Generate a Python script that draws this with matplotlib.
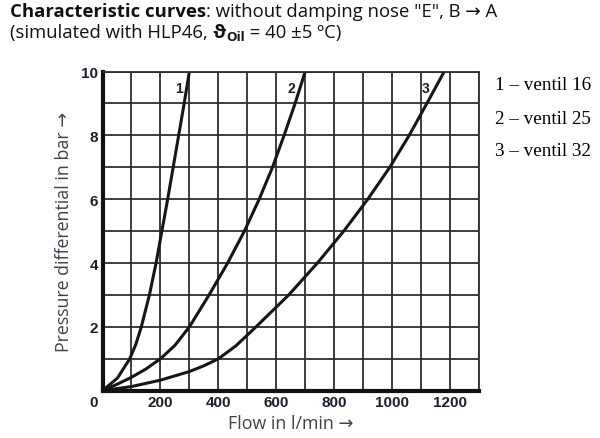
from matplotlib import pyplot as plt
import numpy as np

# flow in l/min, pressure differential in bar
flow_16 = [0, 52, 94, 115, 134, 162, 185, 205, 225, 244, 263, 282, 300]
dp_16 = [0, 0.4, 1, 1.45, 2, 3, 4, 5, 6, 7, 8, 9, 10]

flow_25 = [0, 50, 100, 150, 200, 250, 300, 368, 432, 490, 541, 587, 627, 665, 700]
dp_25 = [0, 0.2, 0.42, 0.68, 1, 1.42, 2, 3, 4, 5, 6, 7, 8, 9, 10]

flow_32 = [0, 100, 200, 300, 350, 400, 460, 530, 643, 742, 833, 916, 992, 1059, 1120, 1180]
dp_32 = [0, 0.13, 0.33, 0.6, 0.78, 1, 1.4, 2, 3, 4, 5, 6, 7, 8, 9, 10]

x_ticks = [200, 400, 600, 800, 1000, 1200]
y_ticks = [2, 4, 6, 8, 10]
curve_tags = ['1', '2', '3']
legend_labels = ['1 – ventil 16', '2 – ventil 25', '3 – ventil 32']

W, H = 600, 439
fig = plt.figure(figsize=(W / 100, H / 100), dpi=100)
plt.rcParams['font.family'] = ['Liberation Sans', 'DejaVu Sans']
sans = ['Open Sans', 'DejaVu Sans']
tick_col = '#1e1e30'

ax = fig.add_axes([102.5 / W, 1 - 391.7 / H, 376.5 / W, 319.2 / H])
ax.set_xlim(0, 1300)
ax.set_ylim(0, 10)

ax.set_xticks(x_ticks)
ax.set_xticks(np.arange(0, 1301, 100), minor=True)
ax.set_yticks(y_ticks)
ax.set_yticks(np.arange(0, 11, 1), minor=True)
ax.grid(which='both', color='#2e2e2e', linewidth=1.3)
ax.set_axisbelow(True)
ax.tick_params(which='both', length=0)
ax.tick_params(axis='x', pad=3)
ax.tick_params(axis='y', pad=3)
for lab in ax.get_xticklabels() + ax.get_yticklabels():
    lab.set_fontweight('bold')
    lab.set_fontsize(11)
    lab.set_color(tick_col)

for s in ['left', 'bottom']:
    ax.spines[s].set_linewidth(3)
    ax.spines[s].set_color('#111111')
for s in ['top', 'right']:
    ax.spines[s].set_linewidth(1.3)
    ax.spines[s].set_color('#2e2e2e')

for fl, dp in [(flow_16, dp_16), (flow_25, dp_25), (flow_32, dp_32)]:
    ax.plot(fl, dp, color='#161616', linewidth=2.2, solid_joinstyle='round')

# curve numbers just left of the top of each curve
tag_xy = [(264, 9.49), (652, 9.49), (1117, 9.49)]
for tag, (tx, ty) in zip(curve_tags, tag_xy):
    ax.text(tx, ty, tag, ha='center', va='center', fontsize=10,
            fontweight='bold', color=tick_col)

# single 0 at the corner
ax.annotate('0', xy=(0, 0), xytext=(-9, -11), textcoords='offset pixels',
            ha='center', va='center', fontsize=11, fontweight='bold', color=tick_col)

ax.set_xlabel('Flow in l/min →', fontsize=12.8, color='#40404e', labelpad=4, family=sans)
ax.set_ylabel('Pressure differential in bar →', fontsize=12.8, color='#40404e', labelpad=6, family=sans)

for i, txt in enumerate(legend_labels):
    fig.text(495 / W, 1 - (86 + i * 33) / H, txt, family='Liberation Serif',
             fontsize=13.8, va='center', ha='left', color='black')

# title, built from pieces so parts can be bold
renderer = fig.canvas.get_renderer()


def put_pieces(x_px, y_px, pieces):
    x = x_px
    for txt, dy, kw in pieces:
        t = fig.text(x / W, 1 - (y_px + dy) / H, txt, va='baseline', ha='left',
                     family=sans, color='#111111', **kw)
        x += t.get_window_extent(renderer).width


tsize = 13.3
put_pieces(10, 17, [
    ('Characteristic curves', 0, dict(fontsize=tsize, fontweight='bold')),
    (': without damping nose "E", B → A', 0, dict(fontsize=tsize)),
])
put_pieces(10, 38, [
    ('(simulated with HLP46, ', 0, dict(fontsize=tsize)),
    ('ϑ', 0, dict(fontsize=tsize, fontweight='bold')),
    ('Oil', 3, dict(fontsize=9.5, fontweight='bold')),
    (' = 40 ±5 ºC)', 0, dict(fontsize=tsize)),
])

fig.savefig('out.png', dpi=100)
